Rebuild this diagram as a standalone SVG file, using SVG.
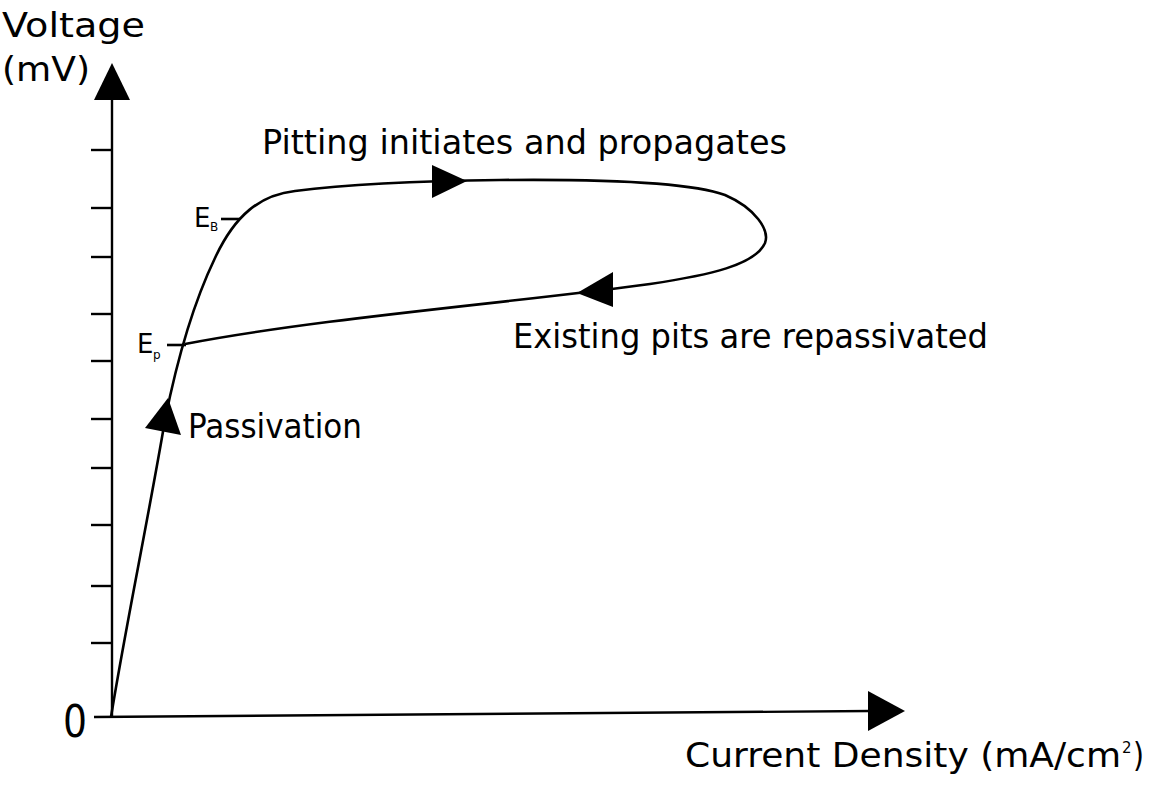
<svg xmlns="http://www.w3.org/2000/svg" width="1158" height="785" viewBox="0 0 1158 785">
<style>
.ax{stroke:#000;stroke-width:2.4;fill:none}
.cv{stroke:#000;stroke-width:2.6;fill:none}
.ah{fill:#000;stroke:none}
.t{font-family:"DejaVu Sans","Liberation Sans",sans-serif;fill:#000}
.big{font-size:34px}
.sm{font-size:26px}
.sub{font-size:12px}
</style>
<rect width="1158" height="785" fill="#fff"/>
<g id="axes">
<line class="ax" x1="112" y1="98" x2="112" y2="718"/>
<line class="ax" x1="94" y1="717" x2="870" y2="711"/>
<g id="ticks">
<line class="ax" x1="91" y1="150" x2="112" y2="150"/>
<line class="ax" x1="91" y1="208" x2="112" y2="208"/>
<line class="ax" x1="91" y1="257" x2="112" y2="257"/>
<line class="ax" x1="91" y1="314" x2="112" y2="314"/>
<line class="ax" x1="91" y1="361" x2="112" y2="361"/>
<line class="ax" x1="91" y1="419" x2="112" y2="419"/>
<line class="ax" x1="91" y1="468" x2="112" y2="468"/>
<line class="ax" x1="91" y1="525" x2="112" y2="525"/>
<line class="ax" x1="91" y1="586" x2="112" y2="586"/>
<line class="ax" x1="91" y1="643" x2="112" y2="643"/>
</g>
<polygon class="ah" points="94,100 130,100 112,63"/>
<polygon class="ah" points="868,691 868,731 905,711"/>
</g>
<g id="connectors">
<path class="cv" d="M111,717 C125,630 148,520 165,420 C175,370 190,310 215,258 C235,215 260,195 295,191 C350,184 420,181 500,180 C600,179 690,182 725,195 C755,208 770,230 765,243 C755,265 710,275 650,284 C520,302 320,318 185,344"/>
<line class="cv" x1="167" y1="345" x2="186" y2="345"/>
<line class="cv" x1="221" y1="219" x2="240" y2="219"/>
<polygon class="ah" points="168,398 145,428 181,435"/>
<polygon class="ah" points="432,165 432,198 467,181"/>
<polygon class="ah" points="613,272 613,307 577,293"/>
</g>
<g id="labels">
<text class="t big" x="2" y="37" textLength="143" lengthAdjust="spacingAndGlyphs">Voltage</text>
<text class="t big" x="2" y="81" textLength="88" lengthAdjust="spacingAndGlyphs">(mV)</text>
<text class="t" x="63" y="737" font-size="44" textLength="24" lengthAdjust="spacingAndGlyphs">0</text>
<text class="t big" x="262" y="154" textLength="525" lengthAdjust="spacingAndGlyphs">Pitting initiates and propagates</text>
<text class="t big" x="513" y="348" textLength="475" lengthAdjust="spacingAndGlyphs">Existing pits are repassivated</text>
<text class="t big" x="188" y="438" textLength="174" lengthAdjust="spacingAndGlyphs">Passivation</text>
<text class="t big" x="685" y="767" textLength="436" lengthAdjust="spacingAndGlyphs">Current Density (mA/cm</text>
<text class="t" x="1122" y="753" font-size="15">2</text>
<text class="t big" x="1133" y="767" textLength="11" lengthAdjust="spacingAndGlyphs">)</text>
<text class="t sm" x="194" y="227">E</text>
<text class="t sub" x="210" y="231">B</text>
<text class="t sm" x="137" y="353">E</text>
<text class="t sub" x="153" y="359">p</text>
</g>
</svg>
